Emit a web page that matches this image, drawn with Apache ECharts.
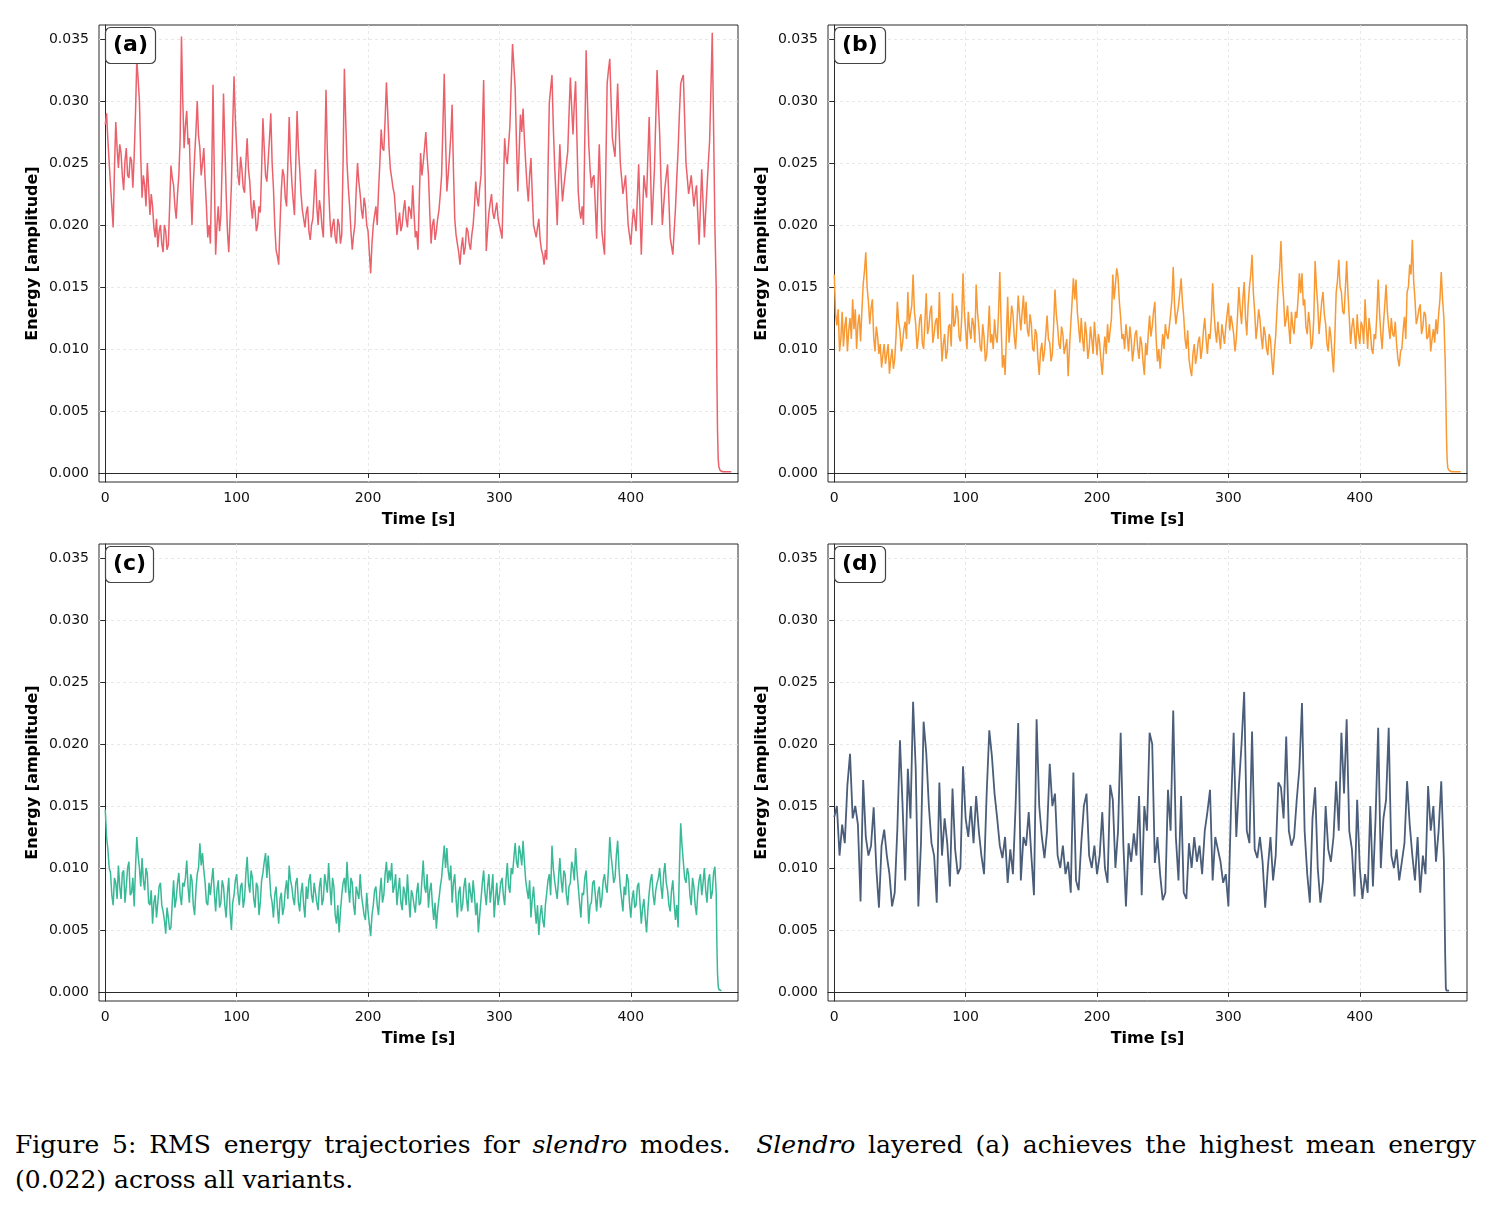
<!DOCTYPE html>
<html>
<head>
<meta charset="utf-8">
<title>RMS energy trajectories</title>
<script src="https://cdn.jsdelivr.net/npm/echarts@6/dist/echarts.min.js"></script>
<style>
  body { margin: 0; background: #fff; }
  #chart { position: absolute; left: 0; top: 0; width: 1492px; height: 1100px; }
  .caption {
    position: absolute; left: 15px; width: 1461px;
    font-family: "DejaVu Serif", serif; font-size: 25px; line-height: 35px; color: #000;
  }
  .line1 { top: 1127px; text-align: justify; text-align-last: justify; }
  .line2 { top: 1162px; }
</style>
</head>
<body>
<div id="chart"></div>
<div class="caption line1">Figure 5: RMS energy trajectories for <i>slendro</i> modes. &nbsp;<i>Slendro</i> layered (a) achieves the highest mean energy</div>
<div class="caption line2">(0.022) across all variants.</div>
<script>
// values in units of 1e-4
// "even" arrays: t = 0, 2, 4 ... 464 s; "odd" arrays: t = 1, 3 ... 463 s

const energyA = [
  281, 268, 232, 198, 283, 246, 258, 228, 262, 238,
  252, 255, 333, 300, 222, 232, 250, 208, 215, 190,
  182, 200, 178, 195, 184, 248, 232, 205, 240, 352,
  262, 292, 270, 200, 255, 300, 262, 250, 236, 190,
  185, 313, 176, 215, 208, 306, 226, 178, 232, 320,
  262, 232, 245, 226, 270, 235, 205, 212, 200, 210,
  286, 240, 252, 290, 230, 180, 168, 228, 240, 215,
  287, 235, 208, 292, 245, 212, 198, 215, 188, 205,
  245, 200, 212, 190, 309, 230, 190, 205, 185, 200,
  192, 326, 250, 215, 180, 200, 250, 225, 205, 215,
  195, 161, 200, 215, 228, 277, 260, 315, 262, 238,
  225, 192, 210, 200, 220, 198, 212, 232, 190, 180,
  258, 250, 275, 240, 185, 205, 195, 212, 240, 322,
  227, 255, 297, 205, 185, 168, 190, 182, 195, 180,
  200, 235, 215, 240, 317, 179, 210, 225, 205, 218,
  200, 189, 270, 249, 280, 346, 310, 227, 289, 294,
  250, 219, 254, 200, 190, 205, 180, 168, 172, 299,
  321, 249, 200, 265, 219, 240, 259, 319, 273, 316,
  227, 205, 200, 341, 265, 230, 240, 189, 265, 195,
  176, 314, 334, 270, 255, 314, 250, 225, 240, 200,
  184, 213, 195, 249, 176, 240, 222, 287, 200, 245,
  325, 273, 200, 230, 249, 190, 176, 213, 260, 314,
  321, 250, 225, 240, 215, 232, 184, 245, 190, 230,
  268, 355, 200
];
const energyAOdd = [
  290, 250, 215, 245, 262, 265, 240, 252, 240, 255,
  230, 290, 318, 255, 240, 215, 230, 225, 198, 205,
  195, 185, 200, 180, 215, 238, 215, 225, 270, 300,
  280, 265, 230, 232, 275, 272, 240, 262, 215, 200,
  240, 240, 200, 195, 250, 265, 195, 205, 280, 285,
  240, 255, 230, 250, 245, 215, 220, 195, 215, 245,
  262, 235, 270, 250, 200, 175, 200, 245, 222, 250,
  255, 220, 250, 262, 225, 205, 210, 195, 200, 225,
  215, 220, 198, 250, 260, 205, 200, 190, 205, 185,
  250, 285, 230, 195, 192, 228, 235, 212, 222, 200,
  178, 185, 208, 200, 250, 262, 285, 290, 245, 230,
  210, 202, 195, 212, 205, 215, 205, 210, 195, 220,
  240, 262, 255, 210, 200, 188, 205, 225, 280, 270,
  240, 272, 245, 192, 178, 182, 176, 198, 185, 192,
  215, 222, 230, 275, 245, 195, 218, 210, 212, 205,
  195, 230, 255, 265, 315, 328, 265, 258, 275, 270,
  232, 240, 225, 195, 198, 188, 176, 180, 245, 310,
  280, 225, 235, 240, 230, 250, 290, 295, 298, 270,
  212, 215, 270, 300, 245, 238, 215, 230, 230, 185,
  245, 325, 300, 262, 285, 280, 238, 232, 220, 192,
  200, 205, 222, 212, 210, 230, 255, 245, 222, 285,
  298, 235, 215, 240, 220, 183, 195, 238, 290, 318,
  285, 238, 232, 228, 225, 208, 215, 218, 210, 250,
  310, 280
];

const energyB = [
  160, 119, 98, 130, 118, 98, 125, 140, 132, 120,
  106, 152, 178, 138, 133, 110, 118, 96, 85, 104,
  96, 80, 100, 92, 138, 115, 105, 122, 146, 128,
  160, 120, 110, 128, 100, 145, 118, 135, 112, 125,
  146, 90, 112, 98, 120, 145, 121, 130, 106, 161,
  115, 130, 108, 120, 152, 118, 98, 110, 95, 135,
  112, 124, 105, 162, 85, 79, 142, 118, 128, 100,
  143, 115, 143, 138, 110, 120, 98, 112, 79, 105,
  98, 127, 105, 96, 148, 118, 100, 112, 95, 78,
  120, 157, 156, 118, 125, 98, 112, 100, 108, 122,
  95, 105, 79, 110, 120, 106, 160, 152, 158, 125,
  112, 120, 98, 108, 100, 115, 92, 104, 79, 95,
  127, 118, 138, 90, 84, 112, 120, 108, 128, 166,
  120, 135, 157, 126, 100, 92, 78, 104, 95, 110,
  100, 125, 96, 108, 153, 115, 122, 100, 112, 118,
  137, 127, 112, 108, 150, 120, 154, 111, 150, 176,
  130, 118, 124, 100, 112, 95, 108, 79, 111, 152,
  187, 140, 124, 118, 130, 112, 125, 161, 161, 140,
  112, 120, 105, 171, 135, 125, 146, 120, 98, 110,
  81, 145, 172, 146, 128, 171, 125, 118, 112, 128,
  104, 118, 140, 100, 115, 96, 108, 156, 112, 120,
  152, 118, 125, 110, 104, 86, 100, 126, 146, 168,
  188, 140, 125, 136, 118, 128, 110, 98, 116, 124,
  128, 162, 125
];
const energyBOdd = [
  128, 132, 108, 102, 126, 115, 108, 116, 100, 128,
  130, 163, 150, 120, 140, 98, 110, 104, 95, 88,
  104, 92, 84, 110, 122, 98, 116, 108, 120, 135,
  130, 100, 124, 105, 122, 112, 130, 105, 122, 108,
  115, 104, 92, 118, 102, 118, 135, 110, 125, 130,
  100, 116, 125, 105, 130, 102, 120, 90, 112, 105,
  100, 110, 128, 120, 95, 110, 105, 135, 110, 120,
  128, 130, 120, 115, 128, 100, 116, 92, 98, 90,
  112, 108, 90, 120, 128, 104, 118, 96, 108, 100,
  138, 140, 130, 105, 108, 122, 92, 118, 96, 108,
  112, 90, 98, 96, 105, 125, 140, 165, 138, 108,
  100, 110, 118, 90, 112, 100, 110, 90, 105, 112,
  110, 130, 108, 100, 98, 100, 112, 118, 140, 135,
  128, 145, 138, 108, 115, 84, 96, 88, 106, 92,
  115, 108, 112, 125, 130, 105, 110, 120, 104, 128,
  115, 120, 98, 128, 132, 140, 125, 135, 160, 145,
  108, 132, 110, 118, 100, 112, 92, 98, 132, 165,
  155, 118, 135, 104, 118, 130, 140, 145, 135, 118,
  130, 100, 125, 150, 112, 138, 128, 104, 118, 95,
  110, 155, 150, 130, 148, 145, 104, 125, 100, 112,
  122, 104, 118, 125, 100, 112, 128, 130, 100, 135,
  130, 108, 112, 122, 92, 98, 115, 108, 150, 160,
  155, 120, 132, 112, 130, 108, 120, 108, 105, 112,
  140, 140
];

const energyC = [
  147, 115, 96, 70, 88, 102, 75, 98, 85, 105,
  80, 69, 125, 100, 108, 82, 95, 70, 55, 78,
  72, 88, 65, 47, 60, 52, 90, 75, 96, 70,
  85, 106, 72, 90, 62, 95, 120, 112, 88, 70,
  78, 100, 65, 90, 72, 85, 60, 92, 50, 78,
  95, 70, 88, 75, 109, 80, 92, 68, 85, 72,
  96, 112, 110, 78, 60, 85, 55, 80, 68, 90,
  102, 85, 70, 92, 65, 88, 60, 75, 95, 72,
  80, 66, 92, 75, 88, 104, 70, 85, 55, 48,
  78, 92, 105, 72, 88, 62, 80, 95, 70, 58,
  65, 45, 70, 85, 62, 92, 78, 105, 98, 104,
  85, 70, 92, 66, 80, 95, 60, 78, 64, 88,
  72, 106, 80, 68, 88, 58, 51, 75, 92, 118,
  116, 90, 72, 95, 60, 85, 70, 92, 65, 80,
  90, 62, 48, 75, 98, 70, 95, 82, 60, 88,
  78, 92, 70, 104, 80, 95, 120, 100, 112, 122,
  90, 75, 60, 85, 55, 46, 70, 52, 80, 95,
  118, 90, 75, 108, 80, 95, 70, 88, 100, 116,
  85, 60, 78, 98, 55, 72, 90, 65, 85, 75,
  95, 80, 125, 100, 92, 122, 85, 65, 78, 90,
  60, 82, 70, 88, 55, 75, 48, 80, 95, 70,
  88, 100, 75, 104, 82, 65, 90, 58, 52, 136,
  105, 88, 95, 70, 85, 62, 90, 78, 100, 72,
  95, 80, 101
];
const energyCOdd = [
  125, 100, 78, 92, 75, 85, 96, 72, 100, 78,
  92, 100, 110, 85, 90, 100, 72, 82, 72, 60,
  85, 70, 58, 68, 50, 72, 68, 88, 78, 88,
  92, 85, 95, 70, 82, 100, 102, 98, 72, 88,
  90, 80, 82, 68, 90, 70, 80, 65, 72, 90,
  80, 85, 68, 95, 88, 98, 75, 88, 62, 90,
  105, 92, 95, 72, 78, 68, 75, 62, 82, 75,
  90, 75, 88, 72, 80, 70, 85, 90, 78, 88,
  72, 85, 70, 95, 80, 85, 92, 62, 70, 65,
  88, 80, 85, 92, 70, 85, 75, 78, 62, 80,
  55, 62, 82, 70, 80, 72, 95, 88, 90, 80,
  95, 82, 72, 85, 70, 75, 82, 70, 80, 70,
  90, 85, 95, 82, 70, 72, 66, 85, 105, 100,
  98, 102, 88, 75, 80, 65, 85, 75, 88, 72,
  78, 72, 62, 88, 80, 85, 72, 95, 75, 70,
  88, 78, 90, 85, 100, 108, 105, 118, 102, 105,
  82, 90, 75, 68, 70, 62, 58, 70, 90, 78,
  100, 82, 92, 90, 98, 78, 85, 105, 90, 98,
  72, 80, 92, 78, 70, 88, 78, 80, 68, 90,
  85, 100, 110, 88, 110, 100, 75, 85, 95, 72,
  75, 68, 85, 72, 68, 60, 66, 90, 78, 82,
  92, 85, 95, 88, 70, 82, 72, 70, 100, 118,
  92, 100, 78, 92, 70, 80, 95, 88, 82, 90,
  75, 96
];

const energyD = [
  141, 150, 110, 135, 120, 167, 192, 140, 150, 135,
  73, 171, 125, 110, 118, 149, 100, 68, 118, 131,
  110, 95, 69, 80, 131, 203, 150, 90, 180, 140,
  234, 180, 69, 120, 218, 193, 150, 120, 110, 72,
  169, 110, 140, 120, 85, 164, 115, 95, 100, 182,
  140, 125, 150, 120, 158, 130, 110, 95, 160, 211,
  190, 160, 140, 118, 108, 125, 88, 115, 95, 150,
  217, 90, 125, 118, 145, 110, 78, 220, 150, 125,
  108, 130, 184, 150, 160, 110, 100, 118, 95, 105,
  80, 177, 90, 82, 120, 150, 160, 110, 100, 118,
  95, 110, 145, 100, 88, 167, 155, 100, 130, 209,
  120, 69, 120, 105, 128, 110, 158, 78, 150, 130,
  209, 200, 104, 125, 95, 74, 80, 163, 130, 227,
  125, 90, 158, 80, 75, 120, 100, 125, 105, 118,
  95, 130, 145, 163, 90, 125, 115, 105, 88, 95,
  69, 150, 209, 125, 166, 200, 242, 130, 120, 210,
  115, 108, 125, 105, 68, 100, 125, 90, 110, 169,
  165, 140, 206, 130, 118, 125, 155, 180, 233, 130,
  95, 72, 140, 165, 100, 72, 90, 150, 115, 105,
  125, 170, 130, 209, 160, 220, 130, 115, 77, 155,
  100, 75, 95, 80, 150, 85, 140, 213, 100, 140,
  155, 213, 110, 100, 115, 90, 105, 120, 170, 135,
  110, 90, 125, 80, 110, 95, 166, 130, 150, 105,
  130, 170, 106
];
const energyDOdd = [];

// fade-out at the end of each track
const tailTimesA = [465, 465.5, 466, 466.5, 467, 468, 470, 476.5];
const tailA = [150, 80, 35, 12, 5, 2, 1, 1];
const tailTimesB = [465, 465.5, 466, 466.5, 467, 468, 470, 476.8];
const tailB = [90, 60, 28, 10, 4, 2, 1, 1];
const tailTimesC = [465, 465.5, 466, 466.5, 467, 468, 469];
const tailC = [80, 40, 15, 5, 2, 1, 1];
const tailTimesD = [465, 465.5, 466, 468];
const tailD = [30, 3, 1, 1];

const xTicks = [0, 100, 200, 300, 400];
const yTicks = [0, 0.005, 0.01, 0.015, 0.02, 0.025, 0.03, 0.035];
const panelLabels = ["(a)", "(b)", "(c)", "(d)"];
const lineColors = ["#EB616B", "#F89933", "#38B997", "#4A5D79"];
const lineWidths = [1.5, 1.5, 1.5, 1.8];

function toPoints(even, odd, tailTimes, tailValues) {
  const pts = [];
  even.forEach((v, i) => {
    pts.push([2 * i, v * 1e-4]);
    if (i < odd.length) pts.push([2 * i + 1, odd[i] * 1e-4]);
  });
  tailTimes.forEach((t, i) => pts.push([t, tailValues[i] * 1e-4]));
  return pts;
}

const seriesData = [
  toPoints(energyA, energyAOdd, tailTimesA, tailA),
  toPoints(energyB, energyBOdd, tailTimesB, tailB),
  toPoints(energyC, energyCOdd, tailTimesC, tailC),
  toPoints(energyD, energyDOdd, tailTimesD, tailD),
];

const panels = [
  { left: 99, top: 25 },
  { left: 828, top: 25 },
  { left: 99, top: 544 },
  { left: 828, top: 544 },
];
const plotW = 639;
const plotH = 457;

const axisColor = "#2a2a2a";
const gridLine = { show: true, lineStyle: { color: "#e2e2e2", type: [3, 3], width: 0.8 } };
const nameStyle = { fontFamily: "DejaVu Sans", fontWeight: "bold", fontSize: 16, color: "#000" };
const tickText = { fontFamily: "DejaVu Sans", fontSize: 14, color: "#111" };

var chart = echarts.init(document.getElementById("chart"));

var option = {
  animation: false,
  backgroundColor: "#fff",
  title: panels.map((p, i) => ({
    text: panelLabels[i],
    left: p.left + 6,
    top: p.top + 2,
    backgroundColor: "#fff",
    borderColor: "#444",
    borderWidth: 1.2,
    borderRadius: 5,
    padding: [5, 8],
    textStyle: { fontFamily: "DejaVu Sans", fontWeight: "bold", fontSize: 22, color: "#000", lineHeight: 27 },
  })),
  grid: panels.map((p) => ({
    left: p.left,
    top: p.top,
    width: plotW,
    height: plotH,
    show: true,
    borderColor: axisColor,
    borderWidth: 1,
    backgroundColor: "transparent",
  })),
  xAxis: panels.map((p, i) => ({
    type: "value",
    gridIndex: i,
    min: -4.77,
    max: 481.6,
    name: "Time [s]",
    nameLocation: "middle",
    nameGap: 30,
    nameTextStyle: nameStyle,
    axisLine: { show: true, lineStyle: { color: axisColor, width: 1 } },
    axisTick: { show: true, length: 5, customValues: xTicks, lineStyle: { color: axisColor } },
    axisLabel: Object.assign({ customValues: xTicks, margin: 9 }, tickText),
    splitLine: gridLine,
  })),
  yAxis: panels.map((p, i) => ({
    type: "value",
    gridIndex: i,
    min: -0.00073,
    max: 0.03613,
    name: "Energy [amplitude]",
    nameLocation: "middle",
    nameGap: 58,
    nameTextStyle: nameStyle,
    axisLine: { show: true, lineStyle: { color: axisColor, width: 1 } },
    axisTick: { show: true, length: 5, customValues: yTicks, lineStyle: { color: axisColor } },
    axisLabel: Object.assign({
      customValues: yTicks,
      margin: 10,
      formatter: function (value) {
        return value.toFixed(3);
      },
    }, tickText),
    splitLine: gridLine,
  })),
  series: seriesData.map((d, i) => ({
    type: "line",
    xAxisIndex: i,
    yAxisIndex: i,
    data: d,
    showSymbol: false,
    symbol: "none",
    lineStyle: { color: lineColors[i], width: lineWidths[i] },
  })),
};

chart.setOption(option);
</script>
</body>
</html>
